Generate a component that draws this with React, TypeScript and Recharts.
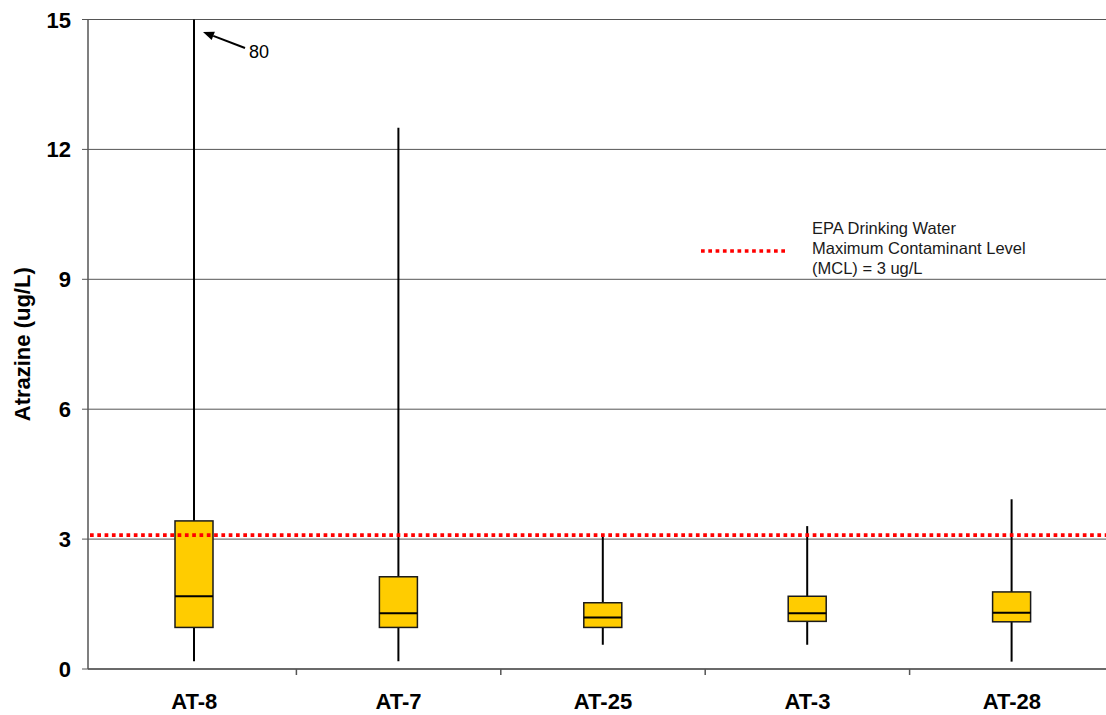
import React from "react";
import {
  BarChart,
  Bar,
  XAxis,
  YAxis,
  CartesianGrid,
  ReferenceLine,
} from "recharts";

// atrazine box-plot summaries per well (ug/L)
const sites = ["AT-8", "AT-7", "AT-25", "AT-3", "AT-28"];
const minVals = [0.18, 0.18, 0.56, 0.56, 0.17];
const q1Vals = [0.96, 0.96, 0.96, 1.1, 1.09];
const medianVals = [1.68, 1.29, 1.19, 1.29, 1.3];
const q3Vals = [3.42, 2.13, 1.53, 1.68, 1.78];
const maxVals = [80, 12.5, 3.09, 3.3, 3.92];

const yTicks = [0, 3, 6, 9, 12, 15];
const Y_MAX = 15;
const MCL = 3;
const legendLines = [
  "EPA Drinking Water",
  "Maximum Contaminant Level",
  "(MCL) = 3 ug/L",
];

const FONT = "Arial, 'Liberation Sans', sans-serif";
const CHART_W = 1116;
const CHART_H = 715;
const Y_AXIS_W = 88;
const MARGIN = { top: 19.5, right: 2, bottom: 0, left: 0 };
const X_PAD_LEFT = 4;
const BAND =
  (CHART_W - MARGIN.left - MARGIN.right - Y_AXIS_W - X_PAD_LEFT) / sites.length;

const rows = sites.map((site, i) => ({
  site,
  min: minVals[i],
  q1: q1Vals[i],
  median: medianVals[i],
  q3: q3Vals[i],
  max: maxVals[i],
}));

const BoxShape = (props: any) => {
  const { x, y, width, height, payload } = props;
  const top = Math.min(y, y + height);
  const bottom = Math.max(y, y + height);
  const { min, max, q1, q3, median } = payload;
  // linear map from value to pixel, using the bar's own span [min, max]
  const px = (v: number) => bottom - ((v - min) / (max - min)) * (bottom - top);
  const cx = x + width / 2;
  const boxTop = px(q3);
  const boxBottom = px(q1);
  const medY = px(median);

  let note = null;
  if (max > Y_MAX) {
    // whisker runs off the axis: point at the top and print the true max
    const t = px(Y_MAX);
    const tip = { x: cx + 9, y: t + 12.5 };
    const tail = { x: cx + 51, y: t + 28.5 };
    const ang = Math.atan2(tail.y - tip.y, tail.x - tip.x);
    const len = 11;
    const half = 4.5;
    const bx = tip.x + Math.cos(ang) * len;
    const by = tip.y + Math.sin(ang) * len;
    const p1 = `${bx - Math.sin(ang) * half},${by + Math.cos(ang) * half}`;
    const p2 = `${bx + Math.sin(ang) * half},${by - Math.cos(ang) * half}`;
    note = (
      <g>
        <line x1={bx} y1={by} x2={tail.x} y2={tail.y} stroke="#000" strokeWidth={2} />
        <polygon points={`${tip.x},${tip.y} ${p1} ${p2}`} fill="#000" />
        <text x={cx + 55} y={t + 38} fontSize={18} fontFamily={FONT} fill="#000">
          {max}
        </text>
      </g>
    );
  }

  return (
    <g>
      <line x1={cx} y1={top} x2={cx} y2={bottom} stroke="#000" strokeWidth={2} />
      <rect
        x={x}
        y={boxTop}
        width={width}
        height={boxBottom - boxTop}
        fill="#FFCC00"
        stroke="#1a1a1a"
        strokeWidth={1.5}
      />
      <line x1={x} y1={medY} x2={x + width} y2={medY} stroke="#000" strokeWidth={2} />
      {note}
    </g>
  );
};

const YTick = (props: any) => {
  const { x, y, payload } = props;
  return (
    <text
      x={x}
      y={y + 8}
      textAnchor="end"
      fontSize={22}
      fontWeight="bold"
      fontFamily={FONT}
      fill="#000"
    >
      {payload.value}
    </text>
  );
};

const XTick = (props: any) => {
  const { x, y, payload, index } = props;
  return (
    <g>
      {index < sites.length - 1 && (
        <line x1={x + BAND / 2} y1={y} x2={x + BAND / 2} y2={y + 6} stroke="#555" strokeWidth={1.5} />
      )}
      <text
        x={x}
        y={y + 40}
        textAnchor="middle"
        fontSize={22}
        fontWeight="bold"
        fontFamily={FONT}
        fill="#000"
      >
        {payload.value}
      </text>
    </g>
  );
};

const MclLine = (props: any) => {
  const { x1, x2, y1 } = props;
  // lift the dotted line just clear of the 3 ug/L gridline
  const yy = y1 - 4;
  return (
    <line
      x1={x1 + 2}
      y1={yy}
      x2={x2}
      y2={yy}
      stroke="#FF0000"
      strokeWidth={3.6}
      strokeDasharray="3.7 3.6"
    />
  );
};

export default function App() {
  return (
    <div
      style={{
        position: "fixed",
        left: 0,
        top: 0,
        width: 1106,
        height: 715,
        overflow: "hidden",
        background: "#fff",
      }}
    >
      <BarChart width={CHART_W} height={CHART_H} data={rows} margin={MARGIN}>
        <CartesianGrid horizontal vertical={false} stroke="#555" strokeWidth={1} />
        <XAxis
          dataKey="site"
          interval={0}
          height={46}
          tickSize={0}
          tickMargin={0}
          tickLine={false}
          padding={{ left: X_PAD_LEFT, right: 0 }}
          axisLine={{ stroke: "#555", strokeWidth: 1.5 }}
          tick={<XTick />}
        />
        <YAxis
          width={Y_AXIS_W}
          domain={[0, Y_MAX]}
          ticks={yTicks}
          allowDataOverflow
          tickSize={6}
          tickMargin={11}
          tickLine={{ stroke: "#555" }}
          axisLine={{ stroke: "#555", strokeWidth: 1.5 }}
          tick={<YTick />}
          label={{
            value: "Atrazine (ug/L)",
            angle: -90,
            position: "insideLeft",
            offset: 0,
            dx: 22,
            style: {
              fontSize: 22,
              fontWeight: "bold",
              fontFamily: FONT,
              fill: "#000",
              textAnchor: "middle",
            },
          }}
        />
        <ReferenceLine y={MCL} shape={<MclLine />} ifOverflow="hidden" />
        <Bar
          dataKey={(d: any) => [d.min, d.max]}
          barSize={38}
          shape={<BoxShape />}
          isAnimationActive={false}
        />
      </BarChart>
      <svg
        width={420}
        height={100}
        style={{ position: "absolute", left: 690, top: 210, pointerEvents: "none" }}
      >
        <line
          x1={11}
          y1={41}
          x2={98}
          y2={41}
          stroke="#FF0000"
          strokeWidth={3.6}
          strokeDasharray="3.7 3.6"
        />
        {legendLines.map((t, i) => (
          <text
            key={t}
            x={122}
            y={23.5 + i * 20}
            fontSize={16.5}
            fontFamily={FONT}
            fill="#1a1a1a"
          >
            {t}
          </text>
        ))}
      </svg>
    </div>
  );
}
